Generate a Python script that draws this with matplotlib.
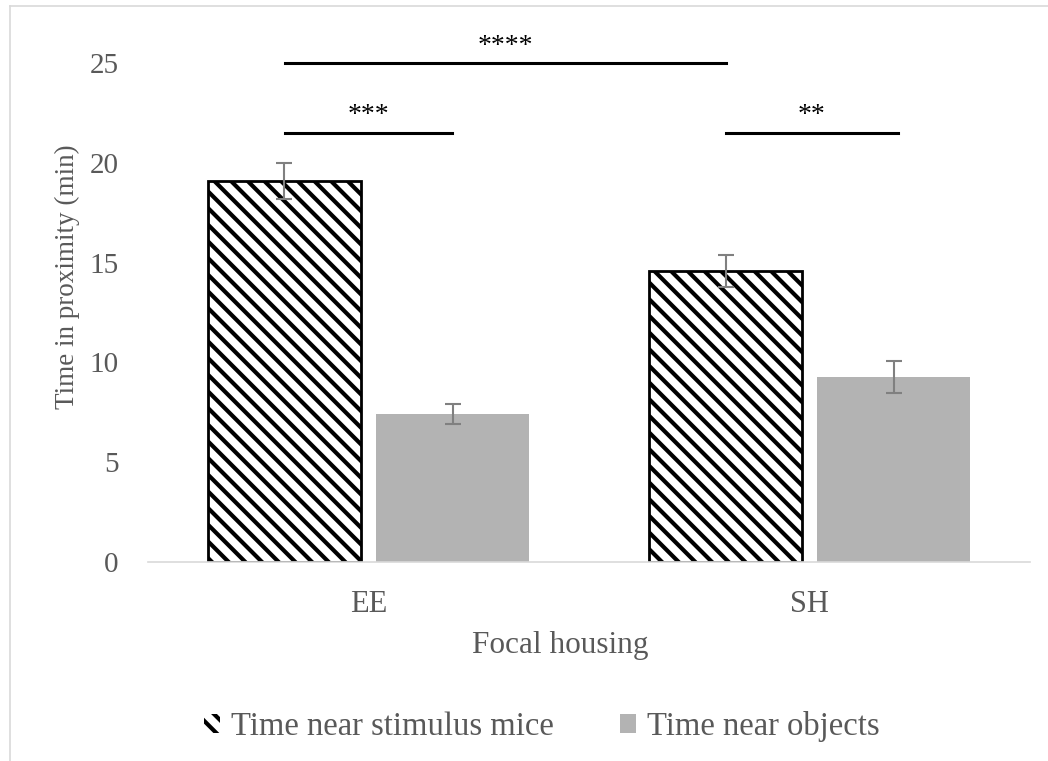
import matplotlib
matplotlib.use('Agg')
import matplotlib.pyplot as plt
from matplotlib.lines import Line2D
import numpy as np

# data
groups = ['EE', 'SH']
stim_mean = [19.1, 14.6]
stim_err = [0.9, 0.8]
obj_mean = [7.4, 9.25]
obj_err = [0.5, 0.8]
series = ['Time near stimulus mice', 'Time near objects']

# significance brackets: (x0, x1, y, label)
sig = [(-0.19, 0.81, 25.0, '****'),
       (-0.19, 0.19, 21.5, '***'),
       (0.81, 1.20, 21.5, '**')]

plt.rcParams['font.family'] = ['Liberation Serif', 'DejaVu Serif']
plt.rcParams['hatch.linewidth'] = 3.0
txt = '#595959'

fig = plt.figure(figsize=(10.48, 7.61), dpi=100)
ax = fig.add_axes([0.1412, 0.2615, 0.8418, 0.6557])

x = np.arange(len(groups))
w = 0.347
off = w / 2 + 0.017
ax.bar(x - off, stim_mean, w, color='white', edgecolor='black', linewidth=2,
       hatch='\\\\', label=series[0], zorder=2)
ax.bar(x + off, obj_mean, w, color='#b3b3b3', edgecolor='none',
       label=series[1], zorder=2)
ax.errorbar(x - off, stim_mean, yerr=stim_err, fmt='none', ecolor='#808080',
            elinewidth=1.5, capsize=6, capthick=1.5, zorder=3)
ax.errorbar(x + off, obj_mean, yerr=obj_err, fmt='none', ecolor='#808080',
            elinewidth=1.5, capsize=6, capthick=1.5, zorder=3)

for x0, x1, y, lab in sig:
    ax.plot([x0, x1], [y, y], color='black', lw=2.2, clip_on=False)
    ax.text((x0 + x1) / 2, y + 0.85, lab, ha='center', va='center',
            fontsize=20, color='black', clip_on=False)

ax.set_xlim(-0.5, 1.5)
ax.set_ylim(0, 25)
ax.set_yticks([0, 5, 10, 15, 20, 25])
ax.set_xticks(x)
ax.set_xticklabels(groups)
ax.tick_params(axis='both', length=0, labelsize=21, labelcolor=txt)
ax.tick_params(axis='x', pad=20, labelsize=22)
ax.tick_params(axis='y', pad=21)
for s in ['top', 'right', 'left']:
    ax.spines[s].set_visible(False)
ax.spines['bottom'].set_color('#d9d9d9')
ax.spines['bottom'].set_linewidth(1.2)

ax.set_ylabel('Time in proximity (min)', fontsize=19.5, color=txt)
ax.yaxis.set_label_coords(-0.077, 0.571)
ax.set_xlabel('Focal housing', fontsize=22.5, color=txt)
ax.xaxis.set_label_coords(0.467, -0.138)

leg = fig.legend(loc='center', bbox_to_anchor=(0.517, 0.045), ncol=2,
                 frameon=False, fontsize=23.5, handlelength=0.5,
                 handleheight=0.5, handletextpad=0.35, columnspacing=2.0)
for t in leg.get_texts():
    t.set_color(txt)
leg.legend_handles[0].set_linewidth(0)

# chart area border (top and left visible)
fig.add_artist(Line2D([0.0095, 1.0], [0.992, 0.992], color='#d9d9d9', lw=1.2))
fig.add_artist(Line2D([0.0095, 0.0095], [0.0, 0.992], color='#d9d9d9', lw=1.2))

fig.savefig('out.png', dpi=100)
